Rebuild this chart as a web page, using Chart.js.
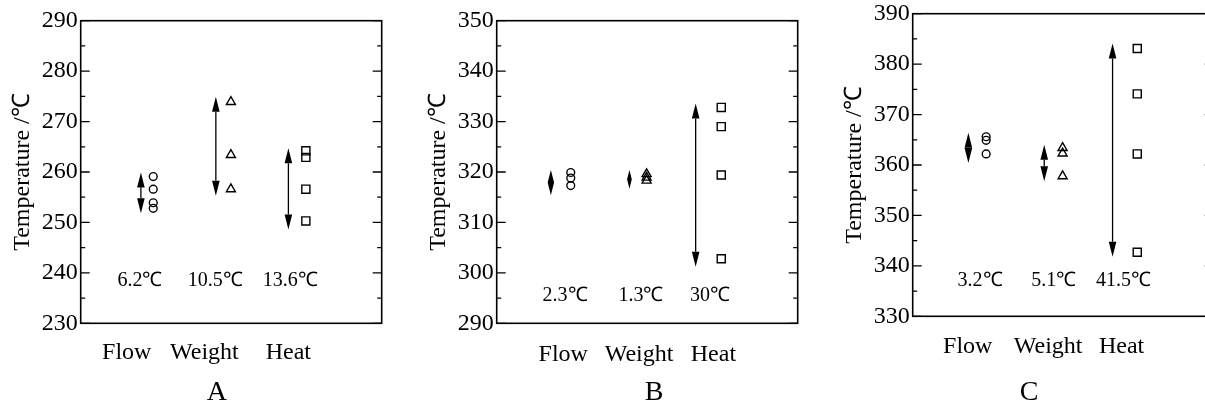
<!DOCTYPE html>
<html>
<head>
<meta charset="utf-8">
<script src="https://cdn.jsdelivr.net/npm/chart.js@4.4.1/dist/chart.umd.min.js"></script>
<style>
  html, body { margin: 0; padding: 0; background: #fff; overflow: hidden; width: 1205px; height: 407px; }
  .panel { position: absolute; width: 400px; height: 407px; }
</style>
</head>
<body>
<div class="panel" style="left:0; top:0"><canvas id="chartA" width="400" height="407"></canvas></div>
<div class="panel" style="left:416px; top:0"><canvas id="chartB" width="400" height="407"></canvas></div>
<div class="panel" style="left:832px; top:-7px"><canvas id="chartC" width="400" height="407"></canvas></div>
<script>
const categories = ['Flow', 'Weight', 'Heat'];

// panel A
const yRangeA = [230, 290];
const flowA = [259.1, 256.6, 253.9, 252.8];
const weightA = [273.9, 263.4, 256.6];
const heatA = [264.2, 262.9, 256.6, 250.3];
const arrowLowA = [251.8, 255.3, 248.6];
const arrowHighA = [259.9, 274.9, 264.7];
const rangeA = ['6.2℃', '10.5℃', '13.6℃'];

// panel B
const yRangeB = [290, 350];
const flowB = [319.9, 318.8, 317.3];
const weightB = [319.6, 318.9, 318.3];
const heatB = [332.8, 329.0, 319.4, 302.8];
const arrowLowB = [315.4, 316.7, 301.2];
const arrowHighB = [320.4, 320.4, 333.6];
const rangeB = ['2.3℃', '1.3℃', '30℃'];

// panel C
const yRangeC = [330, 390];
const flowC = [365.6, 364.9, 362.2];
const weightC = [363.4, 362.3, 357.8];
const heatC = [383.1, 374.1, 362.2, 342.7];
const arrowLowC = [360.4, 356.8, 341.8];
const arrowHighC = [366.4, 364.0, 384.1];
const rangeC = ['3.2℃', '5.1℃', '41.5℃'];

const serif = 'Liberation Serif';
Chart.defaults.font.family = serif;
Chart.defaults.font.size = 24;
Chart.defaults.color = '#000';

const panels = [
  { id: 'chartA', letter: 'A', yRange: yRangeA, series: [flowA, weightA, heatA],
    low: arrowLowA, high: arrowHighA, ranges: rangeA, rangeY: 238.4,
    markerX: [2.41, 4.99, 7.48], arrowX: [2.00, 4.49, 6.90], rangeX: [1.97, 4.47, 6.96],
    catX: [1.53, 4.11, 6.90], catPad: 15.5, letterX: 4.52, letterY: 393 },
  { id: 'chartB', letter: 'B', yRange: yRangeB, series: [flowB, weightB, heatB],
    low: arrowLowB, high: arrowHighB, ranges: rangeB, rangeY: 295.5,
    markerX: [2.46, 4.98, 7.46], arrowX: [1.80, 4.41, 6.61], rangeX: [2.27, 4.79, 7.09],
    catX: [2.21, 4.73, 7.20], catPad: 17, letterX: 5.23, letterY: 393 },
  { id: 'chartC', letter: 'C', yRange: yRangeC, series: [flowC, weightC, heatC],
    low: arrowLowC, high: arrowHighC, ranges: rangeC, rangeY: 337.1,
    markerX: [2.44, 4.98, 7.46], arrowX: [1.85, 4.37, 6.64], rangeX: [2.24, 4.69, 7.00],
    catX: [1.83, 4.50, 6.94], catPad: 16.5, letterX: 3.87, letterY: 400 }
];

const markers = [
  { style: 'circle', radius: 3.9 },
  { style: 'triangle', radius: 5.2 },
  { style: 'rect', radius: 5.7 }
];

function drawArrow(ctx, px, yLow, yHigh) {
  const len = yLow - yHigh;
  const head = Math.min(15, len / 2);
  const hw = 3.8 * Math.min(1, len / 30);
  ctx.beginPath();
  ctx.moveTo(px, yHigh + head);
  ctx.lineTo(px, yLow - head);
  ctx.stroke();
  ctx.beginPath();
  ctx.moveTo(px, yHigh);
  ctx.lineTo(px - hw, yHigh + head);
  ctx.lineTo(px + hw, yHigh + head);
  ctx.closePath();
  ctx.moveTo(px, yLow);
  ctx.lineTo(px - hw, yLow - head);
  ctx.lineTo(px + hw, yLow - head);
  ctx.closePath();
  ctx.fill();
}

function makeDecor(p) {
  return {
    id: 'decor' + p.letter,
    afterDatasetsDraw(chart) {
      const { ctx, chartArea: a, scales: { x, y } } = chart;
      ctx.save();
      ctx.strokeStyle = '#000';
      ctx.fillStyle = '#000';
      ctx.lineWidth = 1.6;
      ctx.strokeRect(a.left, a.top, a.right - a.left, a.bottom - a.top);
      ctx.lineWidth = 1.3;
      y.ticks.forEach(t => {
        const py = y.getPixelForValue(t.value);
        const len = t.value % 10 === 0 ? 9 : 4.5;
        ctx.beginPath();
        ctx.moveTo(a.left, py); ctx.lineTo(a.left + len, py);
        ctx.moveTo(a.right, py); ctx.lineTo(a.right - len, py);
        ctx.stroke();
      });
      p.arrowX.forEach((xv, i) => {
        drawArrow(ctx, x.getPixelForValue(xv), y.getPixelForValue(p.low[i]), y.getPixelForValue(p.high[i]));
      });
      ctx.textAlign = 'center';
      ctx.textBaseline = 'middle';
      ctx.font = '20px ' + serif;
      p.ranges.forEach((s, i) => {
        ctx.fillText(s, x.getPixelForValue(p.rangeX[i]), y.getPixelForValue(p.rangeY));
      });
      ctx.font = '28px ' + serif;
      ctx.fillText(p.letter, x.getPixelForValue(p.letterX), p.letterY);
      ctx.restore();
    }
  };
}

panels.forEach(p => {
  const datasets = p.series.map((vals, i) => ({
    label: categories[i],
    data: vals.map(v => ({ x: p.markerX[i], y: v })),
    pointStyle: markers[i].style,
    pointRadius: markers[i].radius,
    pointBorderWidth: 1.4,
    pointBorderColor: '#000',
    pointBackgroundColor: 'rgba(255,255,255,0)',
    showLine: false
  }));

  new Chart(document.getElementById(p.id), {
    type: 'scatter',
    data: { datasets },
    plugins: [makeDecor(p)],
    options: {
      responsive: false,
      animation: false,
      events: [],
      layout: { padding: { left: 0, right: 18.3, top: 20.7, bottom: 0 } },
      plugins: { legend: { display: false }, tooltip: { enabled: false } },
      scales: {
        x: {
          type: 'linear', min: 0, max: 10,
          grid: { display: false, drawTicks: false }, border: { display: false },
          afterBuildTicks: s => { s.ticks = p.catX.map(v => ({ value: v })); },
          afterFit: s => { s.height = 83.7; },
          ticks: {
            autoSkip: false, maxRotation: 0, padding: p.catPad, color: '#000',
            font: { family: serif, size: 24 },
            callback: (v, i) => categories[i]
          }
        },
        y: {
          min: p.yRange[0], max: p.yRange[1],
          grid: { display: false, drawTicks: false }, border: { display: false },
          afterFit: s => { s.width = 80.7; },
          ticks: {
            stepSize: 5, autoSkip: false, padding: 3, color: '#000',
            font: { family: serif, size: 24 },
            callback: v => (v % 10 === 0 ? v : '')
          },
          title: {
            display: true, text: 'Temperature /℃', color: '#000',
            font: { family: serif, size: 24 },
            padding: { top: 8.1, bottom: 0 }
          }
        }
      }
    }
  });
});
</script>
</body>
</html>
